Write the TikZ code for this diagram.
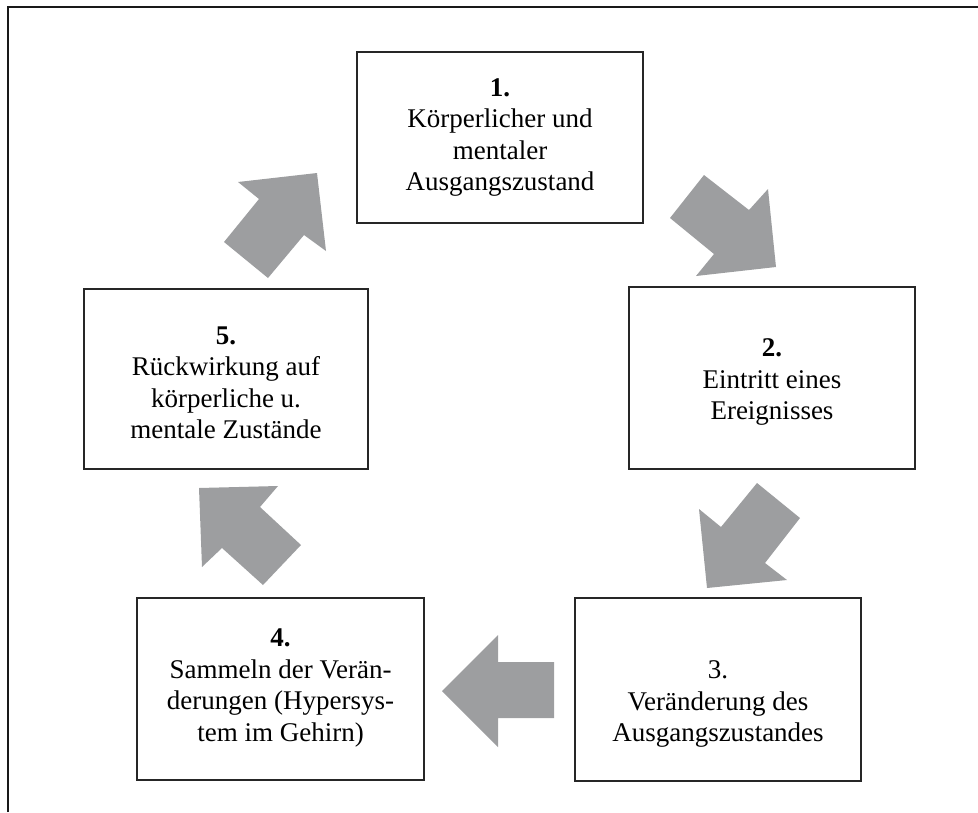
\documentclass[tikz,border=0pt]{standalone}
\usepackage{fontspec}
\setmainfont{Liberation Serif}
\definecolor{arrowgray}{HTML}{9D9EA0}
\begin{document}
\begin{tikzpicture}[x=1pt,y=-1pt,
  box/.style={draw=black!85,line width=1.2pt,fill=white,inner sep=0pt},
  boxtext/.style={align=center,font=\fontsize{27}{31.5}\selectfont,inner sep=0pt},
  bigarrow/.style={fill=arrowgray,draw=none}]
\useasboundingbox (0,0) rectangle (978,812);
% outer frame (top and left edges visible)
\draw[line width=2pt,black!90] (7.5,812) -- (7.5,6.5) -- (978,6.5);
% boxes
\node[box,minimum width=286pt,minimum height=171pt] (b1) at (500,137.5) {};
\node[box,minimum width=286pt,minimum height=182pt] (b2) at (772,378) {};
\node[box,minimum width=286pt,minimum height=183pt] (b3) at (718,689.5) {};
\node[box,minimum width=287pt,minimum height=182pt] (b4) at (280.5,689) {};
\node[box,minimum width=284pt,minimum height=180pt] (b5) at (226,379) {};
% texts
\node[boxtext] (t1) at (500,137.5) {\textbf{1.}\\Körperlicher und\\mentaler\\Ausgangszustand};
\node[boxtext] (t2) at (772,382) {\textbf{2.}\\Eintritt eines\\Ereignisses};
\node[boxtext] (t3) at (718,704) {3.\\Veränderung des\\Ausgangszustandes};
\node[boxtext] (t4) at (280.5,688) {\textbf{4.}\\Sammeln der Verän-\\derungen (Hypersys-\\tem im Gehirn)};
\node[boxtext] (t5) at (226,383) {\textbf{5.}\\Rückwirkung auf\\körperliche u.\\mentale Zustände};
% arrows
\fill[bigarrow] (670,218) -- (704,175) -- (749,210) -- (768,189) -- (776,267) -- (696,276) -- (714,254) -- cycle;
\fill[bigarrow] (757,483) -- (800,518) -- (765,563) -- (787,580) -- (707,588) -- (699,509) -- (721,527) -- cycle;
\fill[bigarrow] (442,691) -- (498,635) -- (498,662) -- (554,662) -- (554,718) -- (498,718) -- (498,747) -- cycle;
\fill[bigarrow] (199,488) -- (278,486) -- (260,507) -- (301,545) -- (263,585) -- (222,548) -- (202,567) -- cycle;
\fill[bigarrow] (238,182) -- (317,173) -- (326,251) -- (304,235) -- (268,278) -- (224,242) -- (259,199) -- cycle;
\end{tikzpicture}
\end{document}
